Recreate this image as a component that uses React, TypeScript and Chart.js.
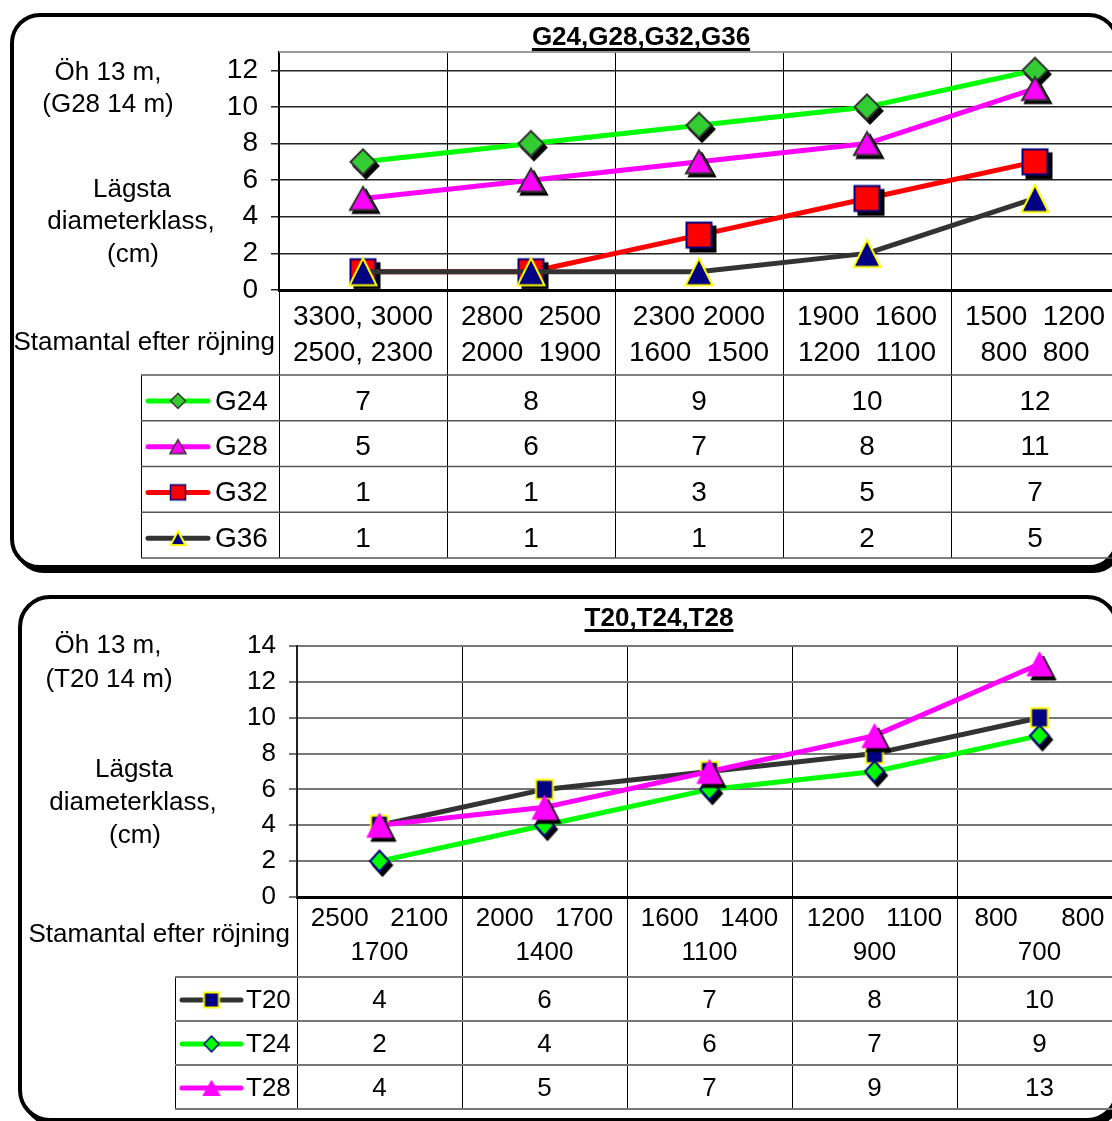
import React, { useEffect, useRef } from 'react';
import { Chart, registerables } from 'chart.js';

Chart.register(...registerables);

const FONT = "'Liberation Sans', Arial, Helvetica, sans-serif";
const CANVAS_W = 1140;
const CANVAS_H = 1130;

// ---- Upper chart: G24, G28, G32, G36 ----
const gCategories: string[][] = [
  ['3300, 3000', '2500, 2300'],
  ['2800  2500', '2000  1900'],
  ['2300 2000', '1600  1500'],
  ['1900  1600', '1200  1100'],
  ['1500  1200', '800  800'],
];
const gNames = ['G24', 'G28', 'G32', 'G36'];
const g24 = [7, 8, 9, 10, 12];
const g28 = [5, 6, 7, 8, 11];
const g32 = [1, 1, 3, 5, 7];
const g36 = [1, 1, 1, 2, 5];
const gYTicks = [0, 2, 4, 6, 8, 10, 12];
const gYMax = 13;

// ---- Lower chart: T20, T24, T28 ----
const tCategories: string[][] = [
  ['2500   2100', '1700'],
  ['2000   1700', '1400'],
  ['1600   1400', '1100'],
  ['1200   1100', '900'],
  ['800      800', '700'],
];
const tNames = ['T20', 'T24', 'T28'];
const t20 = [4, 6, 7, 8, 10];
const t24 = [2, 4, 6, 7, 9];
const t28 = [4, 5, 7, 9, 13];
const tYTicks = [0, 2, 4, 6, 8, 10, 12, 14];
const tYMax = 14;

type Shape = 'diamond' | 'triangle' | 'square';
interface MarkerStyle {
  shape: Shape;
  w: number;
  h: number;
  fill: string;
  stroke: string;
  lw: number;
  shadow?: [number, number];
}
interface SeriesStyle {
  color: string;
  marker: MarkerStyle;
  key: MarkerStyle;
}
interface PanelConfig {
  categories: string[][];
  names: string[];
  values: number[][];
  styles: SeriesStyle[];
  yTicks: number[];
  yMax: number;
  plot: { left: number; top: number; right: number; bottom: number };
  xAxisHeight: number;
  labelLineHeight: number;
  labelPadding: number;
  tickFont: number;
  tableFont: number;
  frame: { x: number; y: number; w: number; h: number; r: number };
  title: { text: string; x: number; baseline: number };
  sideText: { text: string; x: number; baseline: number }[];
  xTitle: { text: string; right: number; baseline: number };
  table: {
    left: number;
    rowH: number;
    keyX0: number;
    keyX1: number;
    labelX: number;
    lineColor: string;
    lineWidth: number;
    textShift: number;
  };
  hGrid: { color: string; width: number };
  xBorderWidth: number;
  yBorder: { color: string; width: number };
  topEdge: boolean;
}

function tracePath(ctx: CanvasRenderingContext2D, shape: Shape, cx: number, cy: number, w: number, h: number) {
  ctx.beginPath();
  if (shape === 'diamond') {
    ctx.moveTo(cx, cy - h / 2);
    ctx.lineTo(cx + w / 2, cy);
    ctx.lineTo(cx, cy + h / 2);
    ctx.lineTo(cx - w / 2, cy);
  } else if (shape === 'triangle') {
    ctx.moveTo(cx, cy - h / 2);
    ctx.lineTo(cx + w / 2, cy + h / 2);
    ctx.lineTo(cx - w / 2, cy + h / 2);
  } else {
    ctx.rect(cx - w / 2, cy - h / 2, w, h);
  }
  ctx.closePath();
}

// Pre-renders a marker (with optional drop shadow) to use as a Chart.js point style.
function makeMarker(m: MarkerStyle): HTMLCanvasElement {
  const sh = m.shadow ?? [0, 0];
  const ext = Math.max(m.w, m.h) / 2 + m.lw + Math.max(Math.abs(sh[0]), Math.abs(sh[1])) + 2;
  const dim = Math.ceil(ext) * 2;
  const c = document.createElement('canvas');
  c.width = dim;
  c.height = dim;
  const ctx = c.getContext('2d')!;
  const cx = dim / 2;
  const cy = dim / 2;
  ctx.lineJoin = 'miter';
  if (m.shadow) {
    tracePath(ctx, m.shape, cx + sh[0], cy + sh[1], m.w, m.h);
    ctx.fillStyle = '#000';
    ctx.fill();
    ctx.lineWidth = m.lw;
    ctx.strokeStyle = '#000';
    ctx.stroke();
  }
  tracePath(ctx, m.shape, cx, cy, m.w, m.h);
  ctx.fillStyle = m.fill;
  ctx.fill();
  ctx.lineWidth = m.lw;
  ctx.strokeStyle = m.stroke;
  ctx.stroke();
  return c;
}

function roundRect(ctx: CanvasRenderingContext2D, x: number, y: number, w: number, h: number, r: number) {
  ctx.beginPath();
  ctx.moveTo(x + r, y);
  ctx.arcTo(x + w, y, x + w, y + h, r);
  ctx.arcTo(x + w, y + h, x, y + h, r);
  ctx.arcTo(x, y + h, x, y, r);
  ctx.arcTo(x, y, x + w, y, r);
  ctx.closePath();
}

// Frame, title, captions and the data table under the x axis.
function panelPlugin(cfg: PanelConfig, keyImgs: HTMLCanvasElement[]) {
  return {
    id: 'panelDecor',
    beforeDraw(chart: any) {
      const ctx: CanvasRenderingContext2D = chart.ctx;
      const f = cfg.frame;
      ctx.save();
      roundRect(ctx, f.x + 4, f.y + 4, f.w, f.h, f.r);
      ctx.fillStyle = '#000';
      ctx.fill();
      ctx.lineWidth = 4;
      ctx.strokeStyle = '#000';
      ctx.stroke();
      roundRect(ctx, f.x, f.y, f.w, f.h, f.r);
      ctx.fillStyle = '#fff';
      ctx.fill();
      ctx.stroke();
      ctx.restore();
    },
    beforeDatasetsDraw(chart: any) {
      if (!cfg.topEdge) return;
      const ctx: CanvasRenderingContext2D = chart.ctx;
      const a = chart.chartArea;
      ctx.save();
      ctx.strokeStyle = '#9a9a9a';
      ctx.lineWidth = 2;
      ctx.beginPath();
      ctx.moveTo(a.left, a.top);
      ctx.lineTo(a.right, a.top);
      ctx.stroke();
      ctx.restore();
    },
    afterDraw(chart: any) {
      const ctx: CanvasRenderingContext2D = chart.ctx;
      const a = chart.chartArea;
      const xs = chart.scales.x;
      const n = cfg.categories.length;
      const t = cfg.table;
      const tableTop = xs.bottom;
      const rows = cfg.values.length;
      const tableBottom = tableTop + rows * t.rowH;
      ctx.save();

      // title
      ctx.font = `bold 26px ${FONT}`;
      ctx.fillStyle = '#000';
      ctx.textAlign = 'center';
      ctx.textBaseline = 'alphabetic';
      ctx.fillText(cfg.title.text, cfg.title.x, cfg.title.baseline);
      const tw = ctx.measureText(cfg.title.text).width;
      ctx.fillRect(cfg.title.x - tw / 2, cfg.title.baseline + 3, tw, 3);

      // side captions
      ctx.font = `26px ${FONT}`;
      for (const s of cfg.sideText) ctx.fillText(s.text, s.x, s.baseline);
      ctx.textAlign = 'right';
      ctx.fillText(cfg.xTitle.text, cfg.xTitle.right, cfg.xTitle.baseline);

      // data table grid
      ctx.strokeStyle = '#000';
      ctx.lineWidth = 1;
      ctx.beginPath();
      for (let i = 0; i <= n; i++) {
        const px = Math.round(xs.getPixelForValue(i - 0.5)) + 0.5;
        ctx.moveTo(px, a.bottom);
        ctx.lineTo(px, tableBottom);
      }
      const lx = t.left + 0.5;
      ctx.moveTo(lx, tableTop);
      ctx.lineTo(lx, tableBottom);
      ctx.stroke();

      ctx.strokeStyle = t.lineColor;
      ctx.lineWidth = t.lineWidth;
      ctx.beginPath();
      for (let r = 0; r <= rows; r++) {
        const py = tableTop + r * t.rowH;
        ctx.moveTo(t.left, py);
        ctx.lineTo(CANVAS_W, py);
      }
      ctx.stroke();

      // rows: legend key, series name, values
      for (let r = 0; r < rows; r++) {
        const cy = tableTop + r * t.rowH + t.rowH / 2 + t.textShift;
        const st = cfg.styles[r];
        ctx.strokeStyle = st.color;
        ctx.lineWidth = 5;
        ctx.lineCap = 'round';
        ctx.beginPath();
        ctx.moveTo(t.keyX0, cy);
        ctx.lineTo(t.keyX1, cy);
        ctx.stroke();
        const img = keyImgs[r];
        ctx.drawImage(img, (t.keyX0 + t.keyX1) / 2 - img.width / 2, cy - img.height / 2);

        ctx.fillStyle = '#000';
        ctx.font = `${cfg.tableFont}px ${FONT}`;
        ctx.textBaseline = 'middle';
        ctx.textAlign = 'left';
        ctx.fillText(cfg.names[r], t.labelX, cy + 1);
        ctx.textAlign = 'center';
        cfg.values[r].forEach((v, i) => {
          ctx.fillText(String(v), xs.getPixelForValue(i), cy + 1);
        });
      }
      ctx.restore();
    },
  };
}

function buildChart(canvas: HTMLCanvasElement, cfg: PanelConfig): Chart {
  const markerImgs = cfg.styles.map((s) => makeMarker(s.marker));
  const keyImgs = cfg.styles.map((s) => makeMarker(s.key));
  const count = cfg.values.length;
  const datasets = cfg.values.map((vals, i) => ({
    label: cfg.names[i],
    data: vals,
    borderColor: cfg.styles[i].color,
    backgroundColor: cfg.styles[i].color,
    borderWidth: 5,
    borderJoinStyle: 'round' as const,
    borderCapStyle: 'round' as const,
    pointStyle: markerImgs[i],
    pointRadius: 12,
    pointHoverRadius: 12,
    tension: 0,
    order: count - i,
    clip: false as const,
  }));

  return new Chart(canvas, {
    type: 'line',
    data: { labels: cfg.categories as any, datasets: datasets as any },
    options: {
      responsive: false,
      animation: false,
      events: [],
      devicePixelRatio: 1,
      layout: {
        autoPadding: false,
        padding: {
          left: 0,
          top: cfg.plot.top,
          right: CANVAS_W - cfg.plot.right,
          bottom: CANVAS_H - cfg.plot.bottom - cfg.xAxisHeight,
        },
      },
      plugins: {
        legend: { display: false },
        title: { display: false },
        tooltip: { enabled: false },
      },
      scales: {
        x: {
          type: 'category',
          offset: true,
          grid: { offset: true, color: '#000', lineWidth: 1, drawTicks: false },
          border: { color: '#000', width: cfg.xBorderWidth },
          ticks: {
            color: '#000',
            font: { family: FONT, size: cfg.tickFont, lineHeight: cfg.labelLineHeight / cfg.tickFont },
            padding: cfg.labelPadding,
            maxRotation: 0,
            minRotation: 0,
            autoSkip: false,
          },
          afterFit: (s: any) => {
            s.height = cfg.xAxisHeight;
          },
        },
        y: {
          type: 'linear',
          min: 0,
          max: cfg.yMax,
          grid: {
            color: cfg.hGrid.color,
            lineWidth: cfg.hGrid.width,
            drawTicks: true,
            tickLength: 8,
          },
          border: { color: cfg.yBorder.color, width: cfg.yBorder.width },
          ticks: {
            color: '#000',
            font: { family: FONT, size: cfg.tickFont },
            padding: 13,
          },
          afterBuildTicks: (s: any) => {
            s.ticks = cfg.yTicks.map((value) => ({ value }));
          },
          afterFit: (s: any) => {
            s.width = cfg.plot.left;
          },
        },
      } as any,
    },
    plugins: [panelPlugin(cfg, keyImgs)],
  });
}

const upperConfig: PanelConfig = {
  categories: gCategories,
  names: gNames,
  values: [g24, g28, g32, g36],
  styles: [
    {
      color: '#00ff00',
      marker: { shape: 'diamond', w: 25, h: 25, fill: '#33cc33', stroke: '#333333', lw: 2, shadow: [3, 4] },
      key: { shape: 'diamond', w: 15, h: 15, fill: '#33cc33', stroke: '#333333', lw: 1.5 },
    },
    {
      color: '#ff00ff',
      marker: { shape: 'triangle', w: 26, h: 23, fill: '#ff00ff', stroke: '#333333', lw: 2, shadow: [3, 3] },
      key: { shape: 'triangle', w: 16, h: 14, fill: '#ff00ff', stroke: '#333333', lw: 1.5 },
    },
    {
      color: '#ff0000',
      marker: { shape: 'square', w: 25, h: 25, fill: '#ff0000', stroke: '#000080', lw: 2, shadow: [4, 4] },
      key: { shape: 'square', w: 15, h: 15, fill: '#ff0000', stroke: '#000080', lw: 1.5 },
    },
    {
      color: '#333333',
      marker: { shape: 'triangle', w: 27, h: 27, fill: '#000080', stroke: '#ffff00', lw: 2 },
      key: { shape: 'triangle', w: 15, h: 14, fill: '#000080', stroke: '#ffff00', lw: 2 },
    },
  ],
  yTicks: gYTicks,
  yMax: gYMax,
  plot: { left: 279, top: 52, right: 1119, bottom: 290 },
  xAxisHeight: 85,
  labelLineHeight: 36,
  labelPadding: 9,
  tickFont: 28,
  tableFont: 28,
  frame: { x: 12, y: 15, w: 1105, h: 552, r: 28 },
  title: { text: 'G24,G28,G32,G36', x: 641, baseline: 45 },
  sideText: [
    { text: 'Öh 13 m,', x: 108, baseline: 80 },
    { text: '(G28 14 m)', x: 108, baseline: 112 },
    { text: 'Lägsta', x: 132, baseline: 197 },
    { text: 'diameterklass,', x: 131, baseline: 229 },
    { text: '(cm)', x: 133, baseline: 262 },
  ],
  xTitle: { text: 'Stamantal efter röjning', right: 275, baseline: 350 },
  table: {
    left: 141,
    rowH: 45.75,
    keyX0: 148,
    keyX1: 208,
    labelX: 215,
    lineColor: '#555555',
    lineWidth: 1.5,
    textShift: 3,
  },
  hGrid: { color: '#222222', width: 1.5 },
  xBorderWidth: 3,
  yBorder: { color: '#000', width: 1.5 },
  topEdge: true,
};

const lowerConfig: PanelConfig = {
  categories: tCategories,
  names: tNames,
  values: [t20, t24, t28],
  styles: [
    {
      color: '#333333',
      marker: { shape: 'square', w: 17, h: 19, fill: '#000080', stroke: '#ffff00', lw: 2 },
      key: { shape: 'square', w: 15, h: 15, fill: '#000080', stroke: '#ffff00', lw: 2 },
    },
    {
      color: '#00ff00',
      marker: { shape: 'diamond', w: 19, h: 21, fill: '#00ff00', stroke: '#000080', lw: 2, shadow: [3, 4] },
      key: { shape: 'diamond', w: 15, h: 16, fill: '#00ff00', stroke: '#000080', lw: 1.5 },
    },
    {
      color: '#ff00ff',
      marker: { shape: 'triangle', w: 25, h: 24, fill: '#ff00ff', stroke: '#ff00ff', lw: 1, shadow: [4, 4] },
      key: { shape: 'triangle', w: 17, h: 15, fill: '#ff00ff', stroke: '#ff00ff', lw: 1 },
    },
  ],
  yTicks: tYTicks,
  yMax: tYMax,
  plot: { left: 297, top: 646, right: 1122, bottom: 897 },
  xAxisHeight: 80,
  labelLineHeight: 34,
  labelPadding: 5,
  tickFont: 26,
  tableFont: 26,
  frame: { x: 20, y: 597, w: 1097, h: 523, r: 30 },
  title: { text: 'T20,T24,T28', x: 659, baseline: 626 },
  sideText: [
    { text: 'Öh 13 m,', x: 108, baseline: 653 },
    { text: '(T20 14 m)', x: 109, baseline: 687 },
    { text: 'Lägsta', x: 134, baseline: 777 },
    { text: 'diameterklass,', x: 133, baseline: 810 },
    { text: '(cm)', x: 135, baseline: 843 },
  ],
  xTitle: { text: 'Stamantal efter röjning', right: 290, baseline: 942 },
  table: {
    left: 175,
    rowH: 44,
    keyX0: 182,
    keyX1: 241,
    labelX: 246,
    lineColor: '#777777',
    lineWidth: 2,
    textShift: 1,
  },
  hGrid: { color: '#777777', width: 2 },
  xBorderWidth: 3,
  yBorder: { color: '#222222', width: 2 },
  topEdge: false,
};

function PanelChart({ cfg }: { cfg: PanelConfig }) {
  const ref = useRef<HTMLCanvasElement | null>(null);
  useEffect(() => {
    if (!ref.current) return;
    const chart = buildChart(ref.current, cfg);
    return () => chart.destroy();
  }, [cfg]);
  return (
    <canvas
      ref={ref}
      width={CANVAS_W}
      height={CANVAS_H}
      style={{ position: 'absolute', left: 0, top: 0, width: CANVAS_W, height: CANVAS_H }}
    />
  );
}

export default function App() {
  return (
    <div
      style={{
        position: 'fixed',
        left: 0,
        top: 0,
        width: 1112,
        height: 1121,
        overflow: 'hidden',
        background: '#fff',
      }}
    >
      <PanelChart cfg={upperConfig} />
      <PanelChart cfg={lowerConfig} />
    </div>
  );
}
